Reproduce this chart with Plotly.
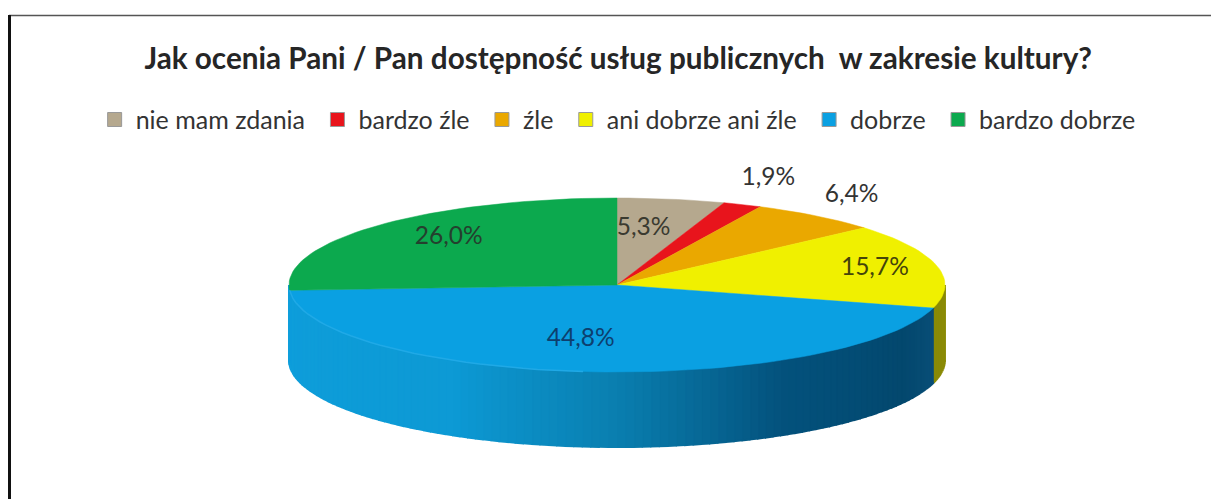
import math
import plotly.graph_objects as go

# --- data ---
categories = ["nie mam zdania", "bardzo źle", "źle", "ani dobrze ani źle", "dobrze", "bardzo dobrze"]
values = [5.3, 1.9, 6.4, 15.7, 44.8, 26.0]
value_labels = ["5,3%", "1,9%", "6,4%", "15,7%", "44,8%", "26,0%"]
title_text = "Jak ocenia Pani / Pan dostępność usług publicznych  w zakresie kultury?"

# --- style ---
top_colors = ["#b5a88e", "#e8141c", "#eaa800", "#f0f000", "#0aa0e2", "#0ca94e"]
FONT = "Lato, Noto Sans, sans-serif"
CX, CY, RX, RY, DEPTH = 617, 285, 328, 87, 75
label_offsets = [(-6, -5), (76, -58), (115, -48), (66, -5), (-16, 3), (-25, -11)]
label_colors = ["#3a3a30", "#333333", "#333333", "#44440a", "#0d3f6e", "#24402e"]
blue_stops = [(105, (10, 79, 120)), (120, (3, 72, 110)), (150, (4, 82, 125)),
              (180, (10, 127, 176)), (210, (13, 154, 213)), (270, (15, 159, 220))]


def rim(deg):
    t = math.radians(deg)
    return CX + RX * math.sin(t), CY - RY * math.cos(t)


def blue_at(deg):
    for (a0, c0), (a1, c1) in zip(blue_stops, blue_stops[1:]):
        if a0 <= deg <= a1:
            f = (deg - a0) / (a1 - a0)
            return "rgb(%d,%d,%d)" % tuple(c0[i] + f * (c1[i] - c0[i]) for i in range(3))
    return "rgb(%d,%d,%d)" % (blue_stops[0][1] if deg < 105 else blue_stops[-1][1])


total = sum(values)
bounds = [0.0]
for v in values:
    bounds.append(bounds[-1] + v / total * 360)

fig = go.Figure()

# side wall (only the lower half of the rim is visible)
STEP = 1.5
deg = 90
while deg < 270:
    d0, d1 = deg, min(deg + STEP, 270)
    mid = (d0 + d1) / 2
    idx = next(i for i in range(len(values)) if bounds[i] <= mid < bounds[i + 1])
    color = "#8a8a06" if idx == 3 else blue_at(mid)
    arc = [rim(d0 + (d1 - d0) * k / 2) for k in range(3)]
    xs = [p[0] for p in arc] + [p[0] for p in reversed(arc)]
    ys = [p[1] for p in arc] + [p[1] + DEPTH for p in reversed(arc)]
    fig.add_trace(go.Scatter(x=xs, y=ys, mode="lines", fill="toself", fillcolor=color,
                             line=dict(color=color, width=2), showlegend=False, hoverinfo="skip"))
    deg += STEP

# top face
for i, name in enumerate(categories):
    a0, a1 = bounds[i], bounds[i + 1]
    n = max(4, int((a1 - a0) / 2))
    arc = [rim(a0 + (a1 - a0) * k / n) for k in range(n + 1)]
    xs = [CX] + [p[0] for p in arc] + [CX]
    ys = [CY] + [p[1] for p in arc] + [CY]
    fig.add_trace(go.Scatter(x=xs, y=ys, mode="lines", fill="toself", fillcolor=top_colors[i],
                             line=dict(color=top_colors[i], width=0.5), name=name,
                             showlegend=False, hoverinfo="name"))

# light edge along the blue rim
a0, a1 = bounds[4], bounds[5]
edge = [rim(a0 + (a1 - a0) * (0.5 + 0.5 * k / 30)) for k in range(31)]
fig.add_trace(go.Scatter(x=[p[0] for p in edge], y=[p[1] for p in edge], mode="lines",
                         line=dict(color="#20a9e6", width=1.5), showlegend=False, hoverinfo="skip"))

# legend entries
for i, name in enumerate(categories):
    fig.add_trace(go.Scatter(x=[None], y=[None], mode="markers", name=name + "\u00a0",
                             marker=dict(symbol="square", size=14, color=top_colors[i],
                                         line=dict(color="#999999", width=1))))

# value labels
lx, ly = [], []
for i in range(len(values)):
    t = math.radians((bounds[i] + bounds[i + 1]) / 2)
    lx.append(CX + 0.6 * RX * math.sin(t) + label_offsets[i][0])
    ly.append(CY - 0.6 * RY * math.cos(t) + label_offsets[i][1])
fig.add_trace(go.Scatter(x=lx, y=ly, mode="text", text=value_labels, textposition="middle center",
                         textfont=dict(family=FONT, size=24.5, color=label_colors),
                         showlegend=False, hoverinfo="skip"))

fig.update_layout(
    width=1211, height=499, margin=dict(l=0, r=0, t=0, b=0),
    paper_bgcolor="white", plot_bgcolor="white",
    font=dict(family=FONT, color="#333333"),
    title=dict(text="<b>" + title_text.replace("  ", " \u00a0") + "</b>", x=0.5105, xanchor="center",
               y=0.883, yanchor="middle", font=dict(family=FONT, size=29.7, color="#262626")),
    xaxis=dict(range=[0, 1211], visible=False, fixedrange=True),
    yaxis=dict(range=[499, 0], visible=False, fixedrange=True),
    legend=dict(orientation="h", x=0.5125, xanchor="center", y=0.76, yanchor="middle",
                font=dict(family=FONT, size=25, color="#333333"), bgcolor="rgba(0,0,0,0)",
                traceorder="normal", itemwidth=32),
    shapes=[
        dict(type="line", xref="paper", yref="paper", x0=9 / 1211, x1=1, y0=1 - 15.5 / 499, y1=1 - 15.5 / 499,
             line=dict(color="#555555", width=1.5)),
        dict(type="line", xref="paper", yref="paper", x0=9.5 / 1211, x1=9.5 / 1211, y0=0, y1=1 - 15 / 499,
             line=dict(color="#111111", width=3)),
    ],
)

fig.write_html("out.html", config={"displayModeBar": False},
               post_script="document.body.style.margin='0';document.documentElement.style.overflow='hidden';")
